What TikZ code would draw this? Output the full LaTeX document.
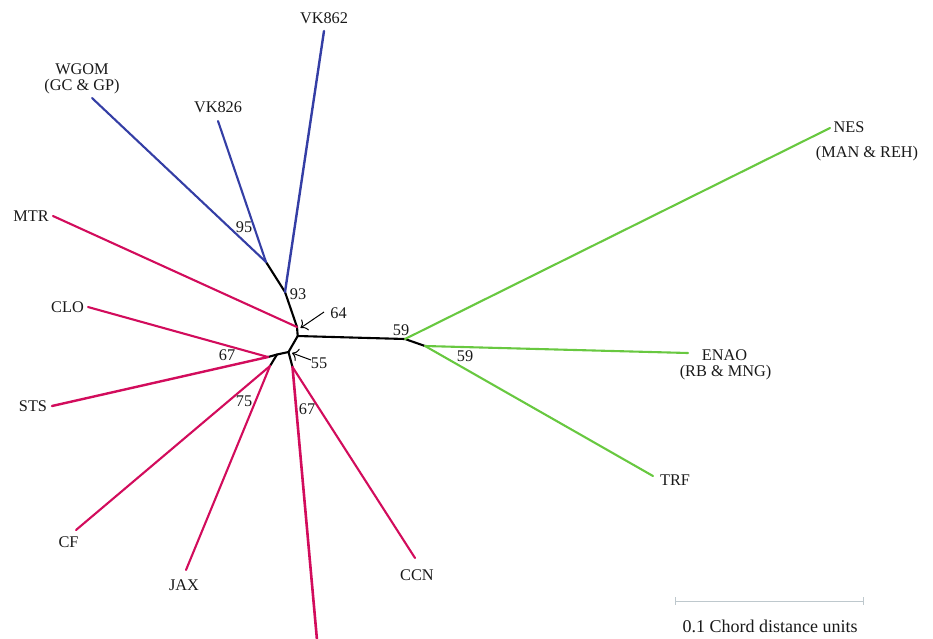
\documentclass[tikz,border=0pt]{standalone}
\usepackage{fontspec}
\setmainfont{Liberation Serif}
\usetikzlibrary{arrows.meta}
\definecolor{tblue}{RGB}{52,62,165}
\definecolor{tpink}{RGB}{210,12,92}
\definecolor{tgreen}{RGB}{104,200,64}
\definecolor{tscale}{RGB}{190,200,205}
\begin{document}
\begin{tikzpicture}[x=1pt,y=-1pt,
  br/.style={line width=2.1pt,line cap=round,line join=round},
  blk/.style={br,black},
  blu/.style={br,tblue},
  pnk/.style={br,tpink},
  grn/.style={br,tgreen},
  lab/.style={inner sep=0pt,font=\fontsize{16.3}{18}\selectfont,text=black!90},
  boot/.style={lab},
  pointer/.style={-{To[length=6pt,width=13pt]},line width=1pt}]
\useasboundingbox (0,0) rectangle (933,638);
% internal nodes
\coordinate (c) at (297.7,336);
\coordinate (m) at (297,327);
\coordinate (n93) at (285,292);
\coordinate (n95) at (266,262);
\coordinate (n59a) at (405,339);
\coordinate (n59b) at (425,346);
\coordinate (n55) at (288.5,352);
\coordinate (k) at (277,354.5);
\coordinate (n67a) at (268,357);
\coordinate (n75) at (270,366);
\coordinate (n67b) at (292.5,367);
% leaf ends
\coordinate (eVK862) at (324,31);
\coordinate (eVK826) at (218,121);
\coordinate (eWGOM) at (92,98);
\coordinate (eMTR) at (53,216);
\coordinate (eCLO) at (88,307);
\coordinate (eSTS) at (52,406);
\coordinate (eCF) at (76,530);
\coordinate (eJAX) at (186,570);
\coordinate (eCCN) at (415,558);
\coordinate (eBOT) at (317,640);
\coordinate (eTRF) at (653,476);
\coordinate (eENAO) at (688,353);
\coordinate (eNES) at (830,128);
% black internal branches
\draw[blk] (n95) -- (n93) -- (m) -- (c) -- (n55) -- (k) -- (n67a);
\draw[blk] (k) -- (n75);
\draw[blk] (n55) -- (n67b);
\draw[blk] (c) -- (n59a) -- (n59b);
% blue
\draw[blu] (n95) -- (eWGOM);
\draw[blu] (n95) -- (eVK826);
\draw[blu,line width=2.4pt] (n93) -- (eVK862);
% pink
\draw[pnk] (m) -- (eMTR);
\draw[pnk] (n67a) -- (eCLO);
\draw[pnk,line width=2.4pt] (n67a) -- (eSTS);
\draw[pnk] (n75) -- (eCF);
\draw[pnk] (n75) -- (eJAX);
\draw[pnk] (n67b) -- (eCCN);
\draw[pnk,line width=2.6pt] (n67b) -- (eBOT);
% green
\draw[grn] (n59a) -- (eNES);
\draw[grn] (n59b) -- (eENAO);
\draw[grn] (n59b) -- (eTRF);
% leaf labels
\node[lab] (VK862) at (324,18) {VK862};
\node[lab] (VK826) at (218,107) {VK826};
\node[lab] (WGOM) at (82,69) {WGOM};
\node[lab] (WGOMb) at (82,87) {(GC \& GP)};
\node[lab] (MTR) at (31,216) {MTR};
\node[lab] (CLO) at (67.5,307) {CLO};
\node[lab] (STS) at (33,406) {STS};
\node[lab] (CF) at (68.5,542) {CF};
\node[lab] (JAX) at (184,585) {JAX};
\node[lab] (CCN) at (417,575) {CCN};
\node[lab] (TRF) at (675,480) {TRF};
\node[lab] (ENAO) at (724.5,355) {ENAO};
\node[lab] (ENAOb) at (725.5,373) {(RB \& MNG)};
\node[lab] (NES) at (849,127) {NES};
\node[lab] (NESb) at (867,154) {(MAN \& REH)};
% bootstrap values
\node[boot] (b95) at (244,227) {95};
\node[boot] (b93) at (298,294) {93};
\node[boot] (b64) at (338.5,313) {64};
\node[boot] (b55) at (319,363) {55};
\node[boot] (b67a) at (227,355) {67};
\node[boot] (b75) at (244,401) {75};
\node[boot] (b67b) at (307,409) {67};
\node[boot] (b59a) at (401,330) {59};
\node[boot] (b59b) at (465,356) {59};
\coordinate (t64) at (324,312);
\coordinate (p64) at (300.5,328);
\coordinate (t55) at (311,360);
\coordinate (p55) at (292,353);
\draw[pointer] (t64) -- (p64);
\draw[pointer] (t55) -- (p55);
% scale bar
\coordinate (s1) at (675,601);
\coordinate (s2) at (863,601);
\draw[tscale,line width=0.9pt] (s1) -- (s2);
\draw[tscale,line width=0.7pt] (s1) ++(0,-4) -- ++(0,8);
\draw[tscale,line width=0.7pt] (s2) ++(0,-4) -- ++(0,8);
\node[lab,font=\fontsize{18}{20}\selectfont] (scale) at (770,626) {0.1 Chord distance units};
\end{tikzpicture}
\end{document}
